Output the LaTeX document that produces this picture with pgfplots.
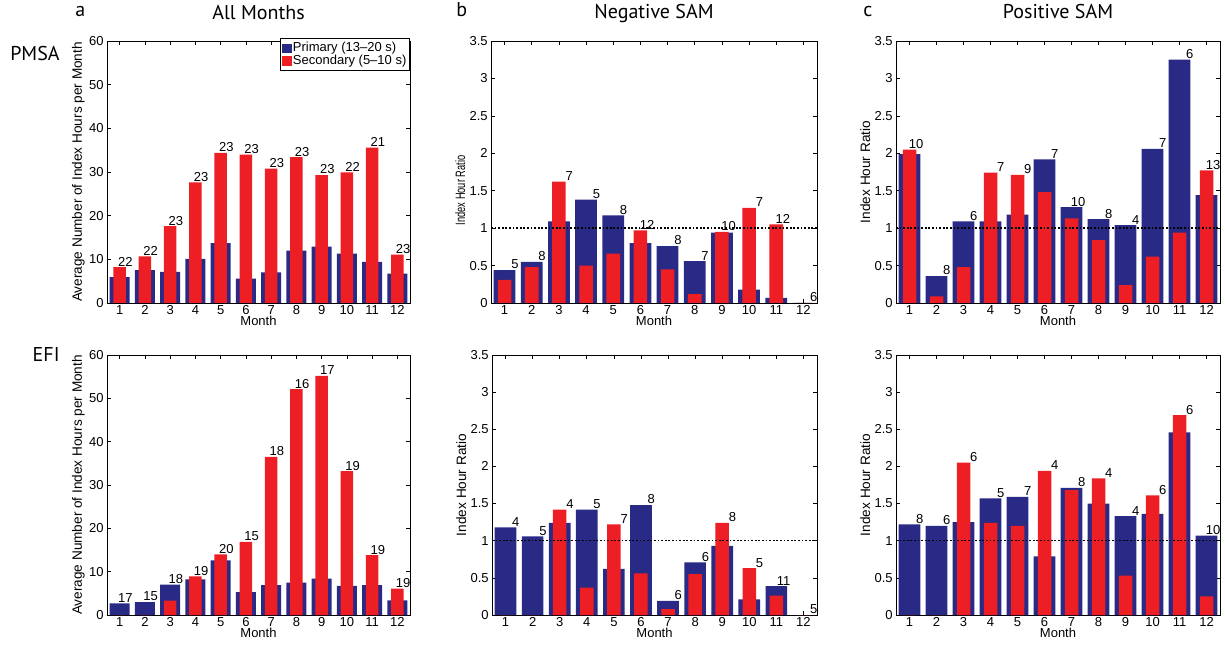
\documentclass[border=0pt]{standalone}
\usepackage{fontspec}
\setmainfont{Liberation Sans}
\newfontfamily\pts{PT Sans}
\usepackage{graphicx}
\usepackage{pgfplots}
\pgfplotsset{compat=1.18}
\usepackage{pgfplotstable}
\definecolor{blueM}{RGB}{40,42,134}
\definecolor{redM}{RGB}{237,31,36}

\pgfplotstableread{
m p s n
1 5.9 8.2 22
2 7.5 10.7 22
3 7.1 17.6 23
4 10.1 27.6 23
5 13.7 34.4 23
6 5.6 34.0 23
7 7.0 30.8 23
8 12.0 33.4 23
9 12.9 29.3 23
10 11.3 29.9 22
11 9.4 35.6 21
12 6.7 11.1 23
}\tabA
\pgfplotstableread{
m p s n
1 0.44 0.31 5
2 0.55 0.48 8
3 1.09 1.62 7
4 1.38 0.50 5
5 1.17 0.66 8
6 0.80 0.97 12
7 0.76 0.45 8
8 0.56 0.12 7
9 0.94 0.95 10
10 0.18 1.27 7
11 0.07 1.05 12
12 0 0 6
}\tabB
\pgfplotstableread{
m p s n
1 1.99 2.05 10
2 0.36 0.09 8
3 1.09 0.48 6
4 1.09 1.74 7
5 1.18 1.71 9
6 1.92 1.48 7
7 1.28 1.13 10
8 1.12 0.84 8
9 1.04 0.24 4
10 2.06 0.62 7
11 3.25 0.94 6
12 1.44 1.77 13
}\tabC
\pgfplotstableread{
m p s n
1 2.7 0 17
2 3.0 0 15
3 7.0 3.3 18
4 8.2 8.9 19
5 12.6 14.0 20
6 5.3 16.9 15
7 6.9 36.5 18
8 7.5 52.1 16
9 8.4 55.2 17
10 6.7 33.2 19
11 6.9 13.8 19
12 3.4 6.1 19
}\tabD
\pgfplotstableread{
m p s n
1 1.18 0 4
2 1.06 0 5
3 1.24 1.42 4
4 1.42 0.37 5
5 0.62 1.22 7
6 1.48 0.56 8
7 0.19 0.08 6
8 0.71 0.55 6
9 0.93 1.24 8
10 0.21 0.63 5
11 0.39 0.26 11
12 0 0 5
}\tabE
\pgfplotstableread{
m p s n
1 1.22 0 8
2 1.20 0 6
3 1.25 2.05 6
4 1.57 1.24 5
5 1.59 1.20 7
6 0.79 1.94 4
7 1.71 1.68 8
8 1.50 1.84 4
9 1.33 0.53 4
10 1.36 1.61 6
11 2.46 2.69 6
12 1.07 0.25 10
}\tabF

\pgfplotsset{
  panel/.style={
    scale only axis, height=131pt, xmin=0.5, xmax=12.5, ymin=0,
    xtick={1,...,12}, tick align=inside, major tick length=2.2pt,
    tick style={black, line width=0.3pt}, axis line style={line width=0.45pt},
    tick label style={font=\fontsize{6.5}{7}\selectfont},
    xticklabel style={inner sep=1pt},
    yticklabel style={inner sep=1.5pt},
    /pgf/number format/assume math mode=true,
    xlabel={Month}, xlabel style={font=\fontsize{6.5}{7}\selectfont, inner sep=0pt, yshift=0.5pt},
    ylabel style={font=\fontsize{6.8}{8}\selectfont, inner sep=0.5pt},
    title style={font=\pts\fontsize{10}{12}\selectfont, at={(0.5,1)}, anchor=base, yshift=5pt},
    clip=false,
  },
  ratio/.style={panel, ymax=3.5, ytick={0,0.5,...,3.5}, ylabel={Index Hour Ratio}},
  hours/.style={panel, ymax=60, ytick={0,10,...,60}, ylabel={Average Number of Index Hours per Month}},
}

\newcommand{\bars}[1]{%
 \addplot[ybar, bar width=0.8, bar shift=0pt, fill=blueM, draw=none] table[x=m,y=p]{#1};
 \addplot[ybar, bar width=0.5, bar shift=0pt, fill=redM, draw=none] table[x=m,y=s]{#1};
 \addplot[draw=none, mark=none, nodes near coords, point meta=explicit symbolic,
   every node near coord/.style={anchor=south east, inner sep=0.3pt, font=\fontsize{6.5}{7}\selectfont}]
   table[x expr=\thisrow{m}+0.55, y expr={max(\thisrow{p},\thisrow{s})}, meta=n]{#1};
}
\newcommand{\oneline}{\addplot[black, dash pattern=on 0.9pt off 0.9pt, line width=0.75pt] coordinates {(0.5,1) (12.5,1)};}

\begin{document}
\begin{tikzpicture}
\useasboundingbox (0,0) rectangle (612.5pt,324pt);

\begin{axis}[hours, at={(53.5pt,172.5pt)}, anchor=south west, width=151.5pt, title={All Months},
  legend style={at={(1,1.01)}, anchor=north east, draw=black, line width=0.4pt,
    font=\fontsize{6.5}{7.5}\selectfont, inner sep=0.8pt, row sep=-1.5pt, nodes={inner sep=0.8pt}},
  legend cell align=left,
  legend entries={Primary (13–20 s), Secondary (5–10 s)}]
\addlegendimage{legend image code/.code={\fill[blueM] (0pt,-2.1pt) rectangle (4.3pt,2.1pt);}}
\addlegendimage{legend image code/.code={\fill[redM] (0pt,-2.1pt) rectangle (4.3pt,2.1pt);}}
\bars{\tabA}
\end{axis}

\begin{axis}[ratio, at={(245.5pt,172.5pt)}, anchor=south west, width=163pt, title={Negative SAM},
  ylabel={\scalebox{0.68}[1]{Index Hour Ratio}}, ylabel style={at={(ticklabel cs:0.43)}}]
\bars{\tabB}
\oneline
\end{axis}

\begin{axis}[ratio, at={(448pt,172.5pt)}, anchor=south west, width=162pt, title={Positive SAM}]
\bars{\tabC}
\oneline
\end{axis}

\begin{axis}[hours, at={(53.5pt,16.5pt)}, anchor=south west, width=151.5pt, height=130pt]
\bars{\tabD}
\end{axis}

\begin{axis}[ratio, at={(246pt,16.5pt)}, anchor=south west, width=162.5pt, height=130pt]
\bars{\tabE}
\oneline
\end{axis}

\begin{axis}[ratio, at={(448pt,16.5pt)}, anchor=south west, width=162pt, height=130pt]
\bars{\tabF}
\oneline
\end{axis}

\node[anchor=base west, inner sep=0pt, font=\pts\fontsize{10}{12}\selectfont] at (37.5pt,315.5pt) {a};
\node[anchor=base west, inner sep=0pt, font=\pts\fontsize{10}{12}\selectfont] at (228pt,315.5pt) {b};
\node[anchor=base west, inner sep=0pt, font=\pts\fontsize{10}{12}\selectfont] at (431.5pt,315.5pt) {c};
\node[anchor=base east, inner sep=0pt, font=\pts\fontsize{10}{12}\selectfont] at (30pt,293.5pt) {PMSA};
\node[anchor=base east, inner sep=0pt, font=\pts\fontsize{10}{12}\selectfont] at (30pt,143pt) {EFI};
\end{tikzpicture}
\end{document}
